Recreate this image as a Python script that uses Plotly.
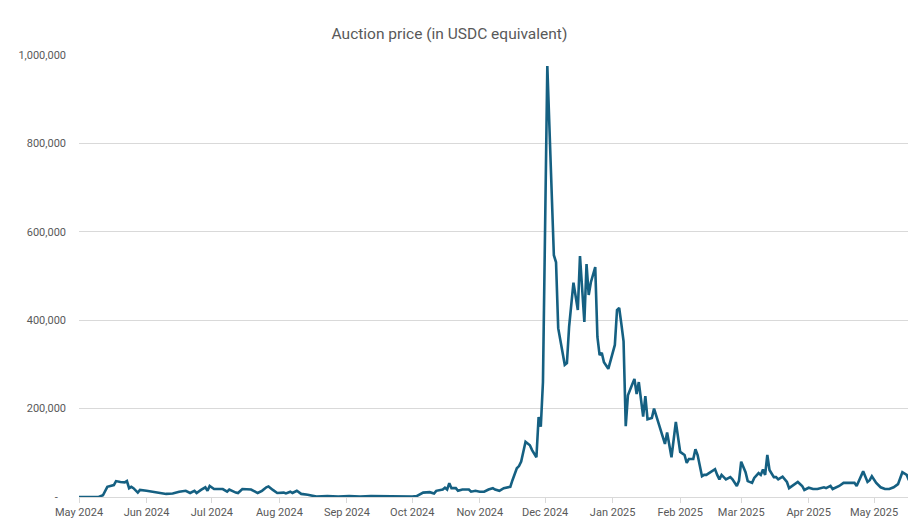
import plotly.graph_objects as go

title_text = "Auction price (in USDC equivalent)"

dates = [
    "2024-05-01", "2024-05-10", "2024-05-12", "2024-05-14", "2024-05-17", "2024-05-18", "2024-05-20",
    "2024-05-22", "2024-05-23", "2024-05-24", "2024-05-25", "2024-05-26", "2024-05-28", "2024-05-29",
    "2024-06-01", "2024-06-04", "2024-06-07", "2024-06-10", "2024-06-13", "2024-06-16", "2024-06-19",
    "2024-06-21", "2024-06-23", "2024-06-24", "2024-06-26", "2024-06-28", "2024-06-29", "2024-06-30",
    "2024-07-02", "2024-07-06", "2024-07-08", "2024-07-09", "2024-07-12", "2024-07-13", "2024-07-15",
    "2024-07-18", "2024-07-19", "2024-07-22", "2024-07-24", "2024-07-26", "2024-07-27", "2024-07-29",
    "2024-07-31", "2024-08-03", "2024-08-04", "2024-08-06", "2024-08-07", "2024-08-09", "2024-08-11",
    "2024-08-14", "2024-08-18", "2024-08-23", "2024-08-28", "2024-09-02", "2024-09-07", "2024-09-12",
    "2024-09-17", "2024-09-22", "2024-09-27", "2024-10-01", "2024-10-03", "2024-10-06", "2024-10-09",
    "2024-10-11", "2024-10-12", "2024-10-15", "2024-10-16", "2024-10-17", "2024-10-18", "2024-10-19",
    "2024-10-21", "2024-10-22", "2024-10-24", "2024-10-27", "2024-10-28", "2024-10-30", "2024-11-01",
    "2024-11-03", "2024-11-05", "2024-11-07", "2024-11-08", "2024-11-10", "2024-11-12", "2024-11-14",
    "2024-11-15", "2024-11-16", "2024-11-18", "2024-11-19", "2024-11-20", "2024-11-22", "2024-11-24",
    "2024-11-25", "2024-11-27", "2024-11-28", "2024-11-29", "2024-11-30", "2024-12-02", "2024-12-05",
    "2024-12-06", "2024-12-07", "2024-12-08", "2024-12-10", "2024-12-11", "2024-12-12", "2024-12-14",
    "2024-12-16", "2024-12-17", "2024-12-19", "2024-12-20", "2024-12-21", "2024-12-22", "2024-12-24",
    "2024-12-25", "2024-12-26", "2024-12-27", "2024-12-28", "2024-12-30", "2024-12-31", "2025-01-01",
    "2025-01-02", "2025-01-03", "2025-01-04", "2025-01-05", "2025-01-06", "2025-01-07", "2025-01-08",
    "2025-01-10", "2025-01-11", "2025-01-12", "2025-01-13", "2025-01-15", "2025-01-16", "2025-01-17",
    "2025-01-19", "2025-01-20", "2025-01-22", "2025-01-23", "2025-01-25", "2025-01-26", "2025-01-28",
    "2025-01-30", "2025-02-01", "2025-02-03", "2025-02-04", "2025-02-05", "2025-02-07", "2025-02-08",
    "2025-02-09", "2025-02-11", "2025-02-12", "2025-02-13", "2025-02-16", "2025-02-17", "2025-02-18",
    "2025-02-19", "2025-02-20", "2025-02-22", "2025-02-24", "2025-02-25", "2025-02-27", "2025-02-28",
    "2025-03-01", "2025-03-03", "2025-03-04", "2025-03-06", "2025-03-07", "2025-03-09", "2025-03-10",
    "2025-03-11", "2025-03-12", "2025-03-13", "2025-03-14", "2025-03-16", "2025-03-17", "2025-03-18",
    "2025-03-20", "2025-03-22", "2025-03-23", "2025-03-25", "2025-03-27", "2025-03-29", "2025-03-30",
    "2025-04-01", "2025-04-03", "2025-04-05", "2025-04-07", "2025-04-08", "2025-04-09", "2025-04-11",
    "2025-04-12", "2025-04-14", "2025-04-15", "2025-04-17", "2025-04-19", "2025-04-22", "2025-04-23",
    "2025-04-25", "2025-04-26", "2025-04-28", "2025-04-29", "2025-04-30", "2025-05-02", "2025-05-04",
    "2025-05-06", "2025-05-08", "2025-05-10", "2025-05-12", "2025-05-13", "2025-05-14", "2025-05-16",
    "2025-05-17",
]

prices = [
    0, 0, 4000, 23000, 27000, 36000, 34000,
    33000, 36000, 20000, 23000, 20000, 10000, 16000,
    14000, 12000, 9000, 7000, 8000, 12000, 14000,
    9000, 14000, 9000, 16000, 22000, 14000, 25000,
    18000, 18000, 12000, 17000, 10000, 9000, 18000,
    16000, 17000, 9000, 14000, 22000, 24000, 16000,
    9000, 10000, 8000, 12000, 9000, 14000, 7000,
    5000, 1000, 2000, 1000, 2000, 1000, 2000,
    1500, 1000, 1000, 800, 2000, 10000, 11000,
    8000, 14000, 17000, 21000, 17000, 31000, 20000,
    20000, 14000, 17000, 17000, 12000, 14000, 12000,
    12000, 17000, 20000, 17000, 14000, 20000, 23000,
    23000, 38000, 65000, 70000, 80000, 125000, 117000,
    106000, 90000, 181000, 159000, 260000, 975000, 547000,
    531000, 382000, 355000, 299000, 303000, 385000, 485000,
    423000, 545000, 396000, 527000, 457000, 486000, 520000,
    362000, 321000, 326000, 305000, 290000, 308000, 330000,
    344000, 423000, 428000, 391000, 352000, 160000, 230000,
    255000, 267000, 233000, 260000, 182000, 228000, 176000,
    179000, 200000, 167000, 148000, 120000, 146000, 90000,
    170000, 102000, 95000, 77000, 86000, 86000, 108000,
    95000, 47000, 50000, 50000, 59000, 63000, 50000,
    40000, 50000, 40000, 45000, 40000, 25000, 37000,
    80000, 56000, 36000, 32000, 43000, 54000, 50000,
    62000, 50000, 95000, 61000, 45000, 45000, 40000,
    46000, 34000, 20000, 27000, 34000, 25000, 16000,
    21000, 18000, 18000, 20000, 22000, 20000, 25000,
    18000, 22000, 25000, 32000, 32000, 32000, 25000,
    45000, 58000, 34000, 38000, 47000, 32000, 22000,
    18000, 18000, 22000, 29000, 43000, 56000, 50000,
    38000,
]

y_tick_vals = [0, 200000, 400000, 600000, 800000, 1000000]
y_tick_text = ["-\u00a0\u00a0\u00a0", "200,000", "400,000", "600,000", "800,000", "1,000,000"]

x_tick_vals = [
    "2024-05-01", "2024-06-01", "2024-07-01", "2024-08-01", "2024-09-01", "2024-10-01",
    "2024-11-01", "2024-12-01", "2025-01-01", "2025-02-01", "2025-03-01", "2025-04-01", "2025-05-01",
]
x_tick_text = [
    "May 2024", "Jun 2024", "Jul 2024", "Aug 2024", "Sep 2024", "Oct 2024",
    "Nov 2024", "Dec 2024", "Jan 2025", "Feb 2025", "Mar 2025", "Apr 2025", "May 2025",
]

line_color = "#156082"
text_color = "#595959"
grid_color = "#d9d9d9"
font_family = "Roboto, Inter, sans-serif"

fig = go.Figure()
fig.add_trace(go.Scatter(
    x=dates, y=prices, mode="lines",
    line=dict(color=line_color, width=2.6),
    showlegend=False,
))

fig.update_layout(
    width=908, height=521,
    margin=dict(l=79, r=0, t=55, b=24),
    paper_bgcolor="white", plot_bgcolor="white",
    font=dict(family=font_family, color=text_color, size=11),
    title=dict(
        text=title_text, x=0.495, xref="container", xanchor="center",
        y=1 - 34 / 521, yref="container", yanchor="middle",
        font=dict(size=15.5, color=text_color, family=font_family),
    ),
)

fig.update_xaxes(
    type="date",
    range=["2024-05-01", "2025-05-16 14:00"],
    tickvals=x_tick_vals, ticktext=x_tick_text,
    showgrid=False, zeroline=False,
    showline=True, linecolor=grid_color, linewidth=1,
    ticks="outside", ticklen=5, tickcolor=grid_color, tickwidth=1,
    tickfont=dict(size=11, color=text_color),
)

fig.update_yaxes(
    range=[0, 1000000],
    tickvals=y_tick_vals, ticktext=y_tick_text,
    showgrid=True, gridcolor=grid_color, gridwidth=1,
    zeroline=False, showline=False,
    ticks="", ticklabelstandoff=12,
    tickfont=dict(size=11, color=text_color),
)

fig.write_html("out.html")
